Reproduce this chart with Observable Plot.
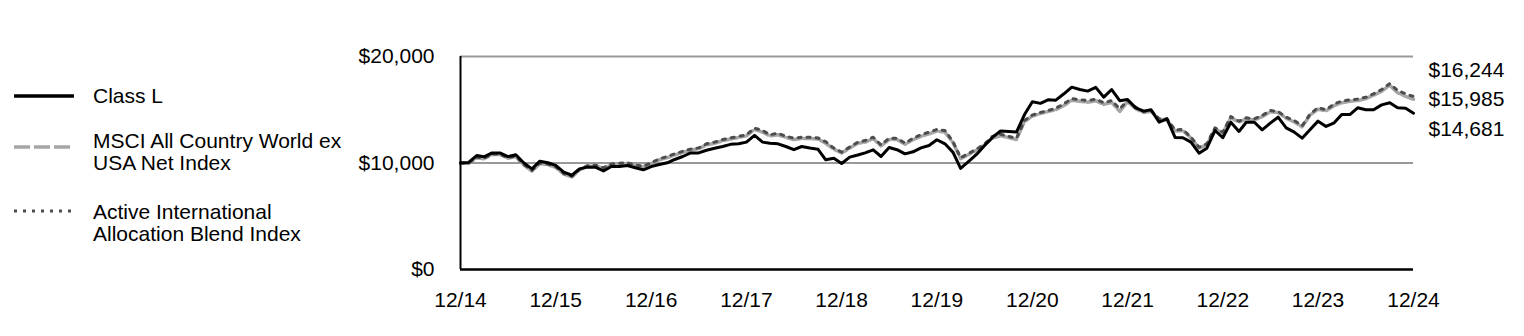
<!DOCTYPE html>
<html>
<head>
<meta charset="utf-8">
<script src="https://cdn.jsdelivr.net/npm/d3@7"></script>
<script src="https://cdn.jsdelivr.net/npm/@observablehq/plot@0.6"></script>
<style>
  body { margin: 0; background: #fff; font-family: "Liberation Sans", Arial, sans-serif; }
  #wrap { position: relative; width: 1524px; height: 336px; }
  #chart { position: absolute; left: 0; top: 0; }
  .leg { position: absolute; left: 0; font-size: 21px; color: #000; line-height: 22px; }
  .leg svg { position: absolute; left: 14px; }
  .leg .t { position: absolute; left: 93px; white-space: nowrap; }
</style>
</head>
<body>
<div id="wrap">
  <div id="chart"></div>
  <div id="legend"></div>
</div>
<script>
const seriesNames = ["Class L", "MSCI All Country World ex USA Net Index", "Active International Allocation Blend Index"];
const legendLines = [["Class L"], ["MSCI All Country World ex", "USA Net Index"], ["Active International", "Allocation Blend Index"]];
const startYear = 2014, startMonth = 11; // December 2014
const tickLabels = ["12/14","12/15","12/16","12/17","12/18","12/19","12/20","12/21","12/22","12/23","12/24"];
const yTicks = [0, 10000, 20000];
const endLabels = ["$16,244", "$15,985", "$14,681"];

const classL = [
  10000, 10050, 10700, 10580, 10950, 10950, 10600, 10780, 10000, 9450,
  10170, 10020, 9770, 9150, 8850, 9450, 9610, 9610, 9250, 9670,
  9670, 9770, 9550, 9360, 9670, 9860, 10020, 10330, 10610, 10950,
  10950, 11200, 11390, 11550, 11750, 11800, 11960, 12600, 11960, 11850,
  11800, 11550, 11250, 11550, 11400, 11300, 10300, 10450, 9950, 10550,
  10750, 10950, 11240, 10610, 11450, 11250, 10860, 11050, 11420, 11640,
  12180, 11800, 11000, 9500, 10150, 10800, 11650, 12400, 13000, 12950,
  12900, 14550, 15750, 15600, 15950, 15900, 16500, 17120, 16900, 16750,
  17100, 16180, 16900, 15850, 15960, 15180, 14870, 15000, 13830, 14150,
  12400, 12370, 11960, 10920, 11390, 13050, 12370, 13830, 12960, 13830,
  13830, 13110, 13740, 14300, 13300, 12900, 12330, 13150, 13930, 13430,
  13770, 14550, 14550, 15180, 15000, 15000, 15460, 15650, 15180, 15150,
  14681
];
const msci = [
  10000, 9950, 10500, 10400, 10800, 10800, 10450, 10600, 9800, 9250,
  9950, 9850, 9600, 8950, 8700, 9350, 9700, 9750, 9500, 9850,
  9900, 9950, 9750, 9650, 9950, 10300, 10500, 10750, 11000, 11200,
  11350, 11700, 11850, 12100, 12250, 12400, 12550, 13150, 12900, 12550,
  12650, 12400, 12200, 12300, 12300, 12250, 11850, 11300, 10950, 11400,
  11850, 11950, 12300, 11600, 12200, 12200, 11750, 12200, 12500, 12750,
  13000, 12900, 11900, 10400, 10800, 11200, 11700, 12350, 12550, 12400,
  12200, 13900, 14400, 14650, 14850, 15000, 15400, 15900, 15800, 15700,
  15850, 15500, 15700, 14850, 15750, 15100, 14750, 14850, 14100, 14050,
  13000, 13050, 12350, 11400, 11700, 13200, 12800, 14250, 13850, 14150,
  14050, 14350, 14800, 14750, 14200, 13850, 13400, 14500, 15050, 14900,
  15400, 15650, 15800, 15850, 16050, 16350, 16750, 17300, 16600, 16250,
  15985
];
const blend = [
  10000, 10000, 10550, 10450, 10850, 10850, 10500, 10650, 9850, 9300,
  10000, 9900, 9650, 9000, 8750, 9400, 9750, 9800, 9550, 9900,
  9980, 10020, 9800, 9700, 10020, 10390, 10610, 10860, 11100, 11300,
  11420, 11800, 11960, 12200, 12350, 12500, 12650, 13270, 13050, 12650,
  12800, 12500, 12330, 12420, 12420, 12350, 12000, 11400, 11020, 11500,
  11950, 12110, 12420, 11700, 12330, 12330, 11860, 12330, 12650, 12900,
  13150, 13050, 12000, 10500, 10900, 11300, 11800, 12500, 12700, 12500,
  12330, 14000, 14500, 14750, 14930, 15150, 15550, 16050, 15950, 15870,
  16000, 15650, 15870, 15090, 15870, 15240, 14840, 14930, 14150, 14150,
  13100, 13150, 12420, 11480, 11800, 13300, 12900, 14370, 13930, 14240,
  14150, 14460, 14930, 14840, 14300, 14000, 13500, 14600, 15200, 15000,
  15550, 15800, 15930, 16000, 16180, 16500, 16900, 17450, 16800, 16500,
  16244
];

const dateOf = i => new Date(Date.UTC(startYear, startMonth + i, 1));
const rows = (vals) => vals.map((v, i) => ({date: dateOf(i), value: v}));
const tickDates = tickLabels.map((_, k) => new Date(Date.UTC(startYear + k, startMonth, 1)));
const last = classL.length - 1;
const endDate = dateOf(last);

const styles = {
  classL: {stroke: "#000", strokeWidth: 3},
  msci: {stroke: "#a6a6a6", strokeWidth: 3.5, strokeDasharray: "14,3"},
  blend: {stroke: "#4d4d4d", strokeWidth: 3, strokeDasharray: "3,6"}
};

const chart = Plot.plot({
  width: 1524,
  height: 336,
  marginLeft: 460,
  marginRight: 111,
  marginTop: 56,
  marginBottom: 67,
  style: {fontFamily: "'Liberation Sans', Arial, sans-serif", fontSize: "21px", color: "#000", background: "#fff"},
  x: {type: "utc", domain: [dateOf(0), endDate], ticks: tickDates, tickFormat: (d, i) => tickLabels[i], tickSize: 0, tickPadding: 23, label: null},
  y: {domain: [0, 20000], ticks: yTicks, tickFormat: d => "$" + d3.format(",")(d), tickSize: 0, tickPadding: 26, label: null},
  marks: [
    Plot.ruleY([10000, 20000], {stroke: "#999", strokeWidth: 2}),
    Plot.lineY(rows(msci), {x: "date", y: "value", ...styles.msci}),
    Plot.lineY(rows(blend), {x: "date", y: "value", ...styles.blend}),
    Plot.lineY(rows(classL), {x: "date", y: "value", ...styles.classL}),
    Plot.ruleX([dateOf(0)], {stroke: "#000", strokeWidth: 2}),
    Plot.ruleY([0], {stroke: "#000", strokeWidth: 2.5}),
    Plot.text([{date: endDate, value: blend[last]}], {x: "date", y: "value", text: () => endLabels[0], textAnchor: "start", dx: 15, dy: -26, fontSize: 21, fill: "#000"}),
    Plot.text([{date: endDate, value: msci[last]}], {x: "date", y: "value", text: () => endLabels[1], textAnchor: "start", dx: 15, dy: 0, fontSize: 21, fill: "#000"}),
    Plot.text([{date: endDate, value: classL[last]}], {x: "date", y: "value", text: () => endLabels[2], textAnchor: "start", dx: 15, dy: 16, fontSize: 21, fill: "#000"})
  ]
});
document.getElementById("chart").appendChild(chart);

// Legend (HTML, left side)
const legendTops = [85, 130, 201];
const legendStyleList = [styles.classL, styles.msci, styles.blend];
const legendLineY = [11, 17, 10];
const legend = document.getElementById("legend");
legendLines.forEach((lines, k) => {
  const div = document.createElement("div");
  div.className = "leg";
  div.style.top = legendTops[k] + "px";
  const st = legendStyleList[k];
  const sw = k === 1 ? "16,4" : (k === 2 ? "3,6" : null);
  const w = k === 0 ? 3.5 : st.strokeWidth;
  div.innerHTML = `<svg width="62" height="24" style="top:${legendLineY[k] - 12}px"><line x1="0" x2="60" y1="12" y2="12" stroke="${st.stroke}" stroke-width="${w}" ${sw ? `stroke-dasharray="${sw}"` : ""}/></svg>` +
    `<div class="t" style="top:0">${lines.join("<br>")}</div>`;
  legend.appendChild(div);
});
</script>
</body>
</html>
